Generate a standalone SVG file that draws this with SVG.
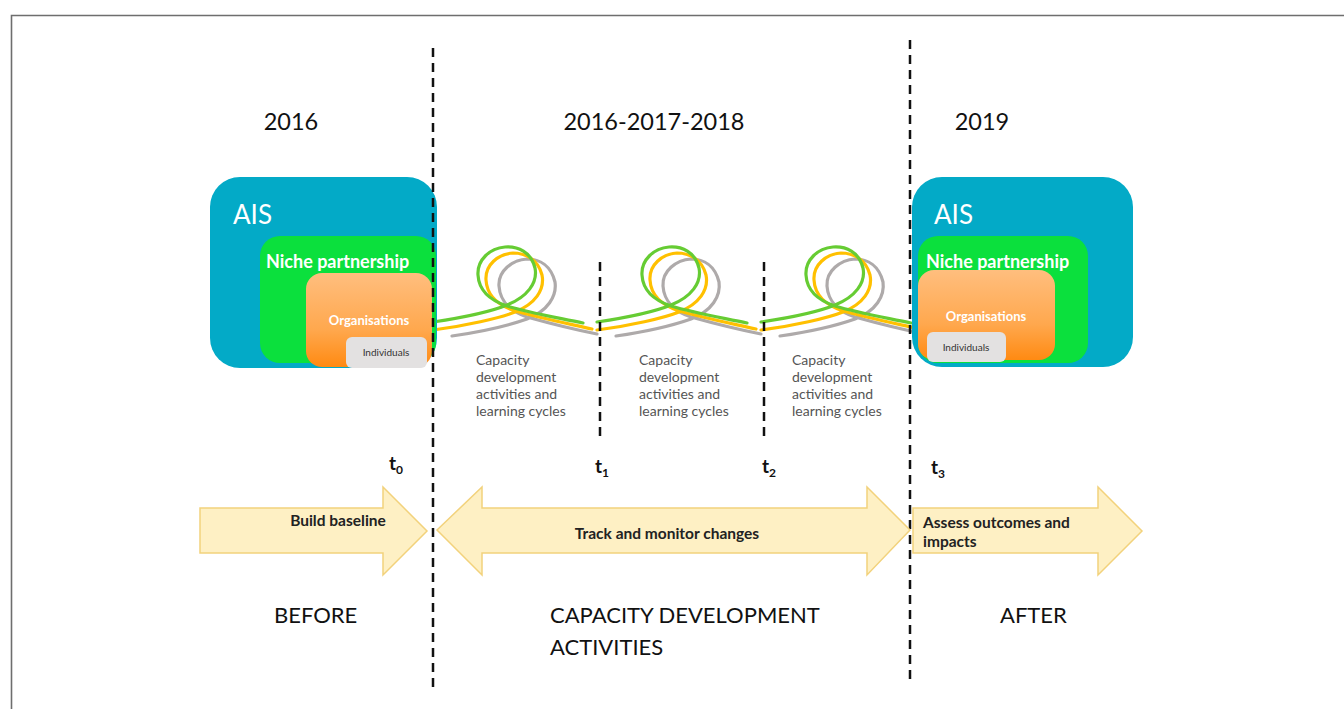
<svg xmlns="http://www.w3.org/2000/svg" width="1344" height="709" viewBox="0 0 1344 709">
<defs>
<linearGradient id="og" x1="0" y1="0" x2="0" y2="1">
<stop offset="0" stop-color="#FFBE7E"/>
<stop offset="0.6" stop-color="#FFA84E"/>
<stop offset="1" stop-color="#FF8A12"/>
</linearGradient>
<g id="loop" fill="none" stroke-width="3.2" stroke-linecap="round">
<path stroke="#AEAAAA" d="M452,336 C480,332 510,325 527,319 C548,311 557,296 555,282 C551,266 540,259 527,259 C512,260 498,271 499,286 C500,302 512,312 527,317 C552,324 577,330 597,334"/>
<path stroke="#FFC000" d="M433,330 C465,326 500,318 515,312 C535,304 545,290 542,275 C538,259 525,253 513,253 C498,254 485,265 486,280 C487,297 500,306 515,311 C540,318 570,324 592,329"/>
<path stroke="#66CC33" d="M433,322 C460,318 490,312 507,305 C527,297 538,283 535,268 C531,252 518,246 505,247 C490,248 477,260 478,275 C479,292 492,301 507,306 C530,313 560,318 583,323"/>
</g>
</defs>
<style>
.t{font-family:Lato,"Open Sans","Liberation Sans",sans-serif}
.year{font-size:23.5px;fill:#111}
.big{font-size:22px;fill:#111}
.ais{font-size:26px;fill:#fff}
.niche{font-size:18px;font-weight:bold;fill:#fff}
.org{font-size:13px;fill:#fff;font-weight:bold}
.ind{font-size:10px;fill:#333}
.cap{font-size:14px;fill:#555}
.tl{font-size:19px;font-weight:bold;fill:#111}
.sub{font-size:12px;font-weight:bold;fill:#111}
.arr{fill:#FEF0C4;stroke:#F2D27C;stroke-width:1.5}
.at{font-size:15.5px;font-weight:bold;fill:#222}
.dash{stroke:#111;stroke-width:2.5;stroke-dasharray:9 6;fill:none}
</style>
<rect x="0" y="0" width="1344" height="709" fill="#fff"/>
<path d="M11.5,720 V15.5 H1360" fill="none" stroke="#6E6E6E" stroke-width="1.6"/>

<g id="years">
<text class="t year" x="291" y="130" text-anchor="middle">2016</text>
<text class="t year" x="654" y="130" text-anchor="middle">2016-2017-2018</text>
<text class="t year" x="982" y="130" text-anchor="middle">2019</text>
</g>

<g id="connectors">
<use href="#loop"/>
<use href="#loop" transform="translate(164,0)"/>
<use href="#loop" transform="translate(328,0)"/>
</g>

<g id="ais-left">
<rect x="210" y="177" width="227" height="191" rx="30" fill="#03AAC7"/>
<text class="t ais" x="233" y="224">AIS</text>
<g id="niche-left">
<rect x="260" y="236" width="176" height="127" rx="20" fill="#0BE03D"/>
<text class="t niche" x="266" y="268">Niche partnership</text>
</g>
<g id="org-left">
<rect x="306" y="273" width="126" height="94" rx="16" fill="url(#og)"/>
<text class="t org" x="369" y="325" text-anchor="middle">Organisations</text>
</g>
<g id="ind-left">
<rect x="346" y="337" width="81" height="31" rx="6" fill="#E3E1E1"/>
<text class="t ind" x="386" y="356" text-anchor="middle">Individuals</text>
</g>
</g>

<g id="ais-right">
<rect x="912" y="177" width="221" height="190" rx="30" fill="#03AAC7"/>
<text class="t ais" x="934" y="224">AIS</text>
<g id="niche-right">
<rect x="918" y="236" width="170" height="127" rx="20" fill="#0BE03D"/>
<text class="t niche" x="926" y="268">Niche partnership</text>
</g>
<g id="org-right">
<rect x="918" y="270" width="137" height="90" rx="16" fill="url(#og)"/>
<text class="t org" x="986" y="321" text-anchor="middle">Organisations</text>
</g>
<g id="ind-right">
<rect x="927" y="332" width="79" height="30" rx="6" fill="#E3E1E1"/>
<text class="t ind" x="966" y="351" text-anchor="middle">Individuals</text>
</g>
</g>

<g id="dashes">
<line class="dash" x1="433" y1="48" x2="433" y2="688"/>
<line class="dash" x1="910" y1="40" x2="910" y2="680"/>
<line class="dash" x1="600" y1="262" x2="600" y2="440"/>
<line class="dash" x1="764" y1="262" x2="764" y2="440"/>
</g>

<g id="captions">
<text class="t cap" x="476" y="365"><tspan x="476">Capacity</tspan><tspan x="476" dy="17">development</tspan><tspan x="476" dy="17">activities and</tspan><tspan x="476" dy="17">learning cycles</tspan></text>
<text class="t cap" x="639" y="365"><tspan x="639">Capacity</tspan><tspan x="639" dy="17">development</tspan><tspan x="639" dy="17">activities and</tspan><tspan x="639" dy="17">learning cycles</tspan></text>
<text class="t cap" x="792" y="365"><tspan x="792">Capacity</tspan><tspan x="792" dy="17">development</tspan><tspan x="792" dy="17">activities and</tspan><tspan x="792" dy="17">learning cycles</tspan></text>
</g>

<g id="times">
<text class="t tl" x="389" y="470">t<tspan class="sub" dy="4">0</tspan></text>
<text class="t tl" x="595" y="473">t<tspan class="sub" dy="4">1</tspan></text>
<text class="t tl" x="762" y="473">t<tspan class="sub" dy="4">2</tspan></text>
<text class="t tl" x="931" y="474">t<tspan class="sub" dy="4">3</tspan></text>
</g>

<g id="arrow-baseline">
<polygon class="arr" points="200,508 383,508 383,487 427,531 383,575 383,553 200,553"/>
<text class="t at" x="338" y="526" text-anchor="middle">Build baseline</text>
</g>
<g id="arrow-track">
<polygon class="arr" points="437,530 482,487 482,508 867,508 867,487 910,530 867,575 867,553 482,553 482,575"/>
<text class="t at" x="667" y="539" text-anchor="middle">Track and monitor changes</text>
</g>
<g id="arrow-assess">
<polygon class="arr" points="913,508 1098,508 1098,487 1142,531 1098,575 1098,553 913,553"/>
<text class="t at" x="923" y="528">Assess outcomes and</text>
<text class="t at" x="923" y="547">impacts</text>
</g>

<g id="phases">
<text class="t big" x="274" y="623">BEFORE</text>
<text class="t big" x="550" y="623">CAPACITY DEVELOPMENT</text>
<text class="t big" x="550" y="655">ACTIVITIES</text>
<text class="t big" x="1000" y="623">AFTER</text>
</g>
</svg>
